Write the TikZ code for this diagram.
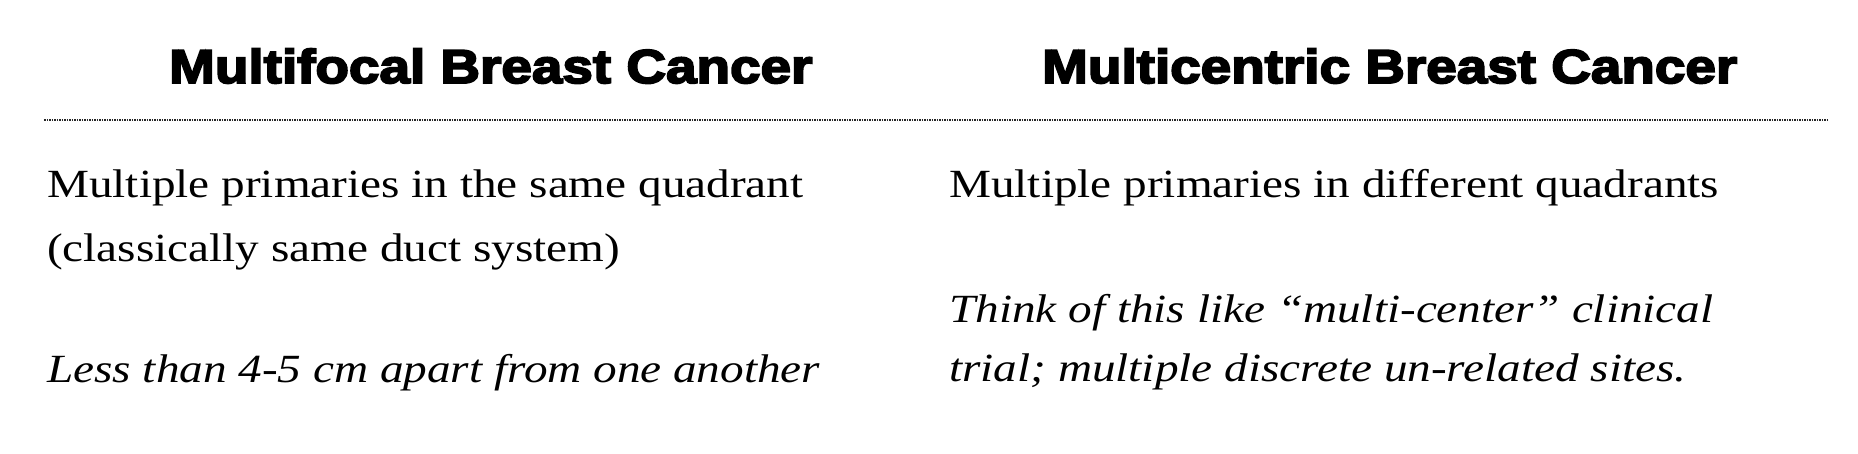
\documentclass[tikz,border=0pt]{standalone}
\usepackage{fontspec}
\setmainfont{Liberation Serif}[FakeStretch=1.18]
\newfontfamily\headfont{Liberation Sans}[FakeStretch=1.155,BoldFeatures={FakeBold=4}]
\usetikzlibrary{calc}
\usepackage{xcolor}

\begin{document}
\begin{tikzpicture}[x=1pt,y=-1pt,
        heading/.style={anchor=base west,inner sep=0pt,font=\headfont\bfseries\fontsize{47.5}{52}\selectfont},
        bodytext/.style={anchor=base west,inner sep=0pt,font=\fontsize{40}{48}\selectfont},
        rule/.style={line width=1.3pt,black!85,dash pattern=on 1.5pt off 1pt}]
        \useasboundingbox (0,0) rectangle (1858,454);
        % headings
        \node[heading] (headL) at (169,83) {Multifocal Breast Cancer};
        \node[heading] (headR) at (1042,83) {Multicentric Breast Cancer};
        % dotted rule
        \coordinate (ruleL) at (44,120);
        \coordinate (ruleR) at (1828,120);
        \draw[rule] (ruleL) -- (ruleR);
        % left column
        \node[bodytext] (focalA) at (47,198) {Multiple primaries in the same quadrant};
        \node[bodytext] (focalB) at (47,262) {(classically same duct system)};
        \node[bodytext] (focalC) at (47,382) {\itshape Less than 4-5 cm apart from one another};
        % right column
        \node[bodytext] (centricA) at (949,198) {Multiple primaries in different quadrants};
        \node[bodytext] (centricB) at (949,323) {\itshape Think of this like “multi-center” clinical};
        \node[bodytext] (centricC) at (949,381) {\itshape trial; multiple discrete un-related sites.};
\end{tikzpicture}
\end{document}
